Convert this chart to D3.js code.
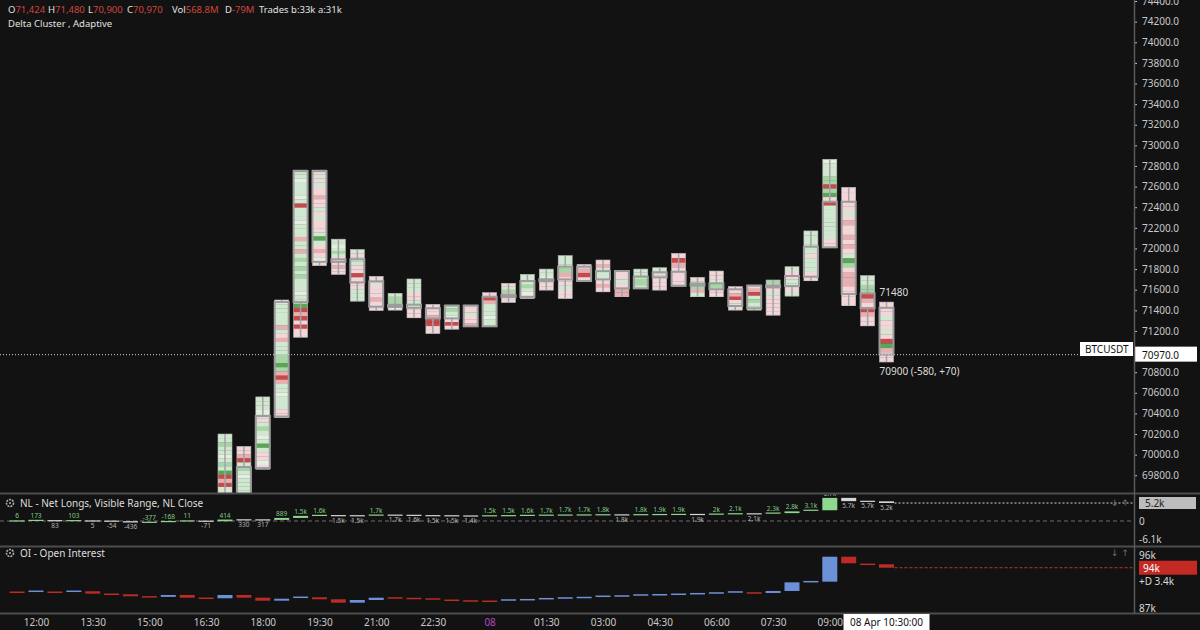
<!DOCTYPE html>
<html>
<head>
    <meta charset="utf-8">
    <title>BTCUSDT Delta Cluster</title>
    <script type="text/javascript" src="https://cdn.jsdelivr.net/npm/d3@7"></script>
    <style type="text/css">
        body { margin: 0; background: #121212; }
        svg { display: block; font-family: "Noto Sans", sans-serif; }
        .axis text { fill: #c8c8c8; font-size: 10px; font-family: "Noto Sans", sans-serif; }
        .axis line { stroke: #c8c8c8; }
        .axis path { display: none; }
    </style>
</head>
<body>
<script type="text/javascript">
    // 30 min candles, 17:00 on 07 Apr to 10:30 on 08 Apr (earlier ones sit below the visible range)
    var candleOpen  = [69550, 69620, 69870, 70370, 71480, 72750, 71870, 71895, 71680, 71435, 71455, 71420,
                       71322, 71445, 71245, 71532, 71530, 71684, 71700, 71823, 71700, 71781, 71613, 71720,
                       71774, 71640, 71662, 71604, 71420, 71639, 71636, 71726, 72011, 72453, 71565, 71424];
    var candleHigh  = [70200, 70080, 70560, 71500, 72760, 72760, 72090, 71990, 71730, 71565, 71704, 71458,
                       71451, 71451, 71571, 71662, 71749, 71800, 71930, 71846, 71888, 71785, 71800, 71813,
                       71953, 71720, 71781, 71630, 71645, 71694, 71823, 72170, 72865, 72593, 71736, 71480];
    var candleLow   = [69450, 69500, 69860, 70360, 71140, 71835, 71750, 71490, 71400, 71403, 71328, 71177,
                       71218, 71241, 71241, 71478, 71516, 71597, 71516, 71680, 71580, 71532, 71613, 71597,
                       71635, 71532, 71532, 71403, 71403, 71354, 71539, 71687, 72010, 71445, 71250, 70900];
    var candleClose = [69620, 69880, 70375, 71480, 72750, 71870, 71895, 71670, 71435, 71450, 71425, 71322,
                       71445, 71245, 71532, 71545, 71684, 71700, 71823, 71684, 71780, 71613, 71726, 71768,
                       71639, 71660, 71604, 71442, 71639, 71625, 71733, 72017, 72453, 71558, 71420, 70970];

    // cluster rows, top to bottom: g light green, w pale, G green, D dark green, p pink, r red, R dark red
    var candleCells = [
        "ggGggwgGgDRrRgpgwgg", "pprRgGgwggggwgg", "gggwgpgGgwgDgppwp",
        "wgggggrgprgggGGDGrRrggwgggpp", "ggwgggwgRgggwgggrggrgGgGgGgggwggDRrRpRpp",
        "pgpgpprppgpgpppgDgprpwp", "ggwgGgppprpp", "gpggppRpppggg", "pgppprpp", "gGGgw",
        "gggppggpp", "ppprRRpp", "gGgwpRp", "ppgppr", "pRrgggwgg", "pgGrgp", "gggGgwp", "ggwgpp",
        "gggGrppgpp", "prRp", "prgggprp", "ppgprr", "gggGGg", "gpgppp", "pRrpppp", "pgGrg",
        "ppgGpp", "pprRpgp", "prRgGgg", "Gppgppppp", "gppggpg", "gggggpgggpp",
        "wgggGGRGDpRggggggggpp", "pppppgprpprprpgDGprrrpppp", "ggGGRrpRrpp", "pppgppgpRDrpp"
    ];

    // indicator series, 11:30 on 07 Apr to 10:30 on 08 Apr
    var netLongs = [6, 173, 83, 103, 5, -54, -436, -377, -168, 11, -71,
                    414, 330, 317, 889, 1480, 1620, 1540, 1510, 1700, 1680, 1630, 1530,
                    1500, 1440, 1500, 1540, 1620, 1680, 1710, 1740, 1790, 1760, 1820, 1860,
                    1900, 1880, 1980, 2080, 2060, 2280, 2780, 3100, 6680, 5730, 5680, 5200];
    var openInterest = [89.67, 89.84, 89.67, 89.84, 89.43, 89.33, 88.99, 88.89, 89.21, 88.75, 88.65,
                        89.21, 88.75, 88.24, 88.58, 88.82, 88.48, 87.90, 88.36, 88.75, 88.70, 88.61, 88.53,
                        88.31, 88.19, 88.14, 88.36, 88.41, 88.58, 88.70, 88.78, 88.99, 89.04, 89.21, 89.25,
                        89.33, 89.43, 89.55, 89.72, 89.55, 89.89, 91.36, 91.47, 95.71, 94.59, 94.42, 93.84];

    var xTickLabels = ["12:00", "13:30", "15:00", "16:30", "18:00", "19:30", "21:00", "22:30",
                       "08", "01:30", "03:00", "04:30", "06:00", "07:30", "09:00"];
    var priceTicks = d3.range(69800, 74401, 200);

    var w = 1200, h = 630, axisX = 1134;
    var cellColor = {g: "#d0e8d0", w: "#e5eee2", G: "#a6d6a6", D: "#5aa55a",
                     p: "#f2d6da", r: "#e6b0b2", R: "#c44a4c"};

    var end = new Date(Date.UTC(2024, 3, 8, 11, 0));
    var candleTimes = d3.utcMinute.range(new Date(Date.UTC(2024, 3, 7, 17, 0)), end, 30);
    var seriesTimes = d3.utcMinute.range(new Date(Date.UTC(2024, 3, 7, 11, 30)), end, 30);
    var tickTimes = d3.utcMinute.range(new Date(Date.UTC(2024, 3, 7, 12, 0)),
                                       new Date(Date.UTC(2024, 3, 8, 9, 1)), 90);

    var x = d3.scaleUtc()
        .domain([new Date(Date.UTC(2024, 3, 7, 11, 0)), new Date(Date.UTC(2024, 3, 8, 12, 0))])
        .range([-1.8, 943.2]);
    var yPrice = d3.scaleLinear().domain([69628, 74410]).range([493, 0]);
    var yNL = d3.scaleLinear().domain([0, 5200]).range([521, 503]);
    var yOI = d3.scaleLinear().domain([87, 96]).range([608, 555]);

    var svg = d3.select("body").append("svg")
        .attr("width", w)
        .attr("height", h);

    svg.append("rect").attr("width", w).attr("height", h).attr("fill", "#121212");

    var defs = svg.append("defs");
    [["clipMain", 0, 493], ["clipNL", 494, 546], ["clipOI", 547, 613]].forEach(function (c) {
        defs.append("clipPath").attr("id", c[0])
            .append("rect").attr("x", 0).attr("y", c[1]).attr("width", axisX).attr("height", c[2] - c[1]);
    });

    // ---- price pane ----
    var main = svg.append("g").attr("clip-path", "url(#clipMain)");

    candleTimes.forEach(function (t, i) {
        var cx = x(t),
            top = yPrice(candleHigh[i]),
            bot = yPrice(candleLow[i]),
            rows = candleCells[i].split(""),
            rh = (bot - top) / rows.length,
            bt = yPrice(Math.max(candleOpen[i], candleClose[i])),
            bb = yPrice(Math.min(candleOpen[i], candleClose[i]));
        if (bb - bt < 2) { var m = (bt + bb) / 2; bt = m - 1; bb = m + 1; }

        var g = main.append("g");
        g.selectAll("rect").data(rows).enter().append("rect")
            .attr("x", cx - 7)
            .attr("width", 14)
            .attr("y", function (c, j) { return top + j * rh; })
            .attr("height", rh + 0.3)
            .attr("fill", function (c) { return cellColor[c]; });
        g.append("rect")
            .attr("x", cx - 7).attr("y", top).attr("width", 14).attr("height", bot - top)
            .attr("fill", "none").attr("stroke", "#b8b8b8").attr("stroke-width", 0.6);
        g.append("line").attr("x1", cx).attr("x2", cx).attr("y1", top).attr("y2", bt)
            .attr("stroke", "#a3a3a3").attr("stroke-width", 1.5);
        g.append("line").attr("x1", cx).attr("x2", cx).attr("y1", bb).attr("y2", bot)
            .attr("stroke", "#a3a3a3").attr("stroke-width", 1.5);
        g.append("rect")
            .attr("x", cx - 7).attr("y", bt).attr("width", 14).attr("height", bb - bt)
            .attr("fill", "none").attr("stroke", "#9c9c9c").attr("stroke-width", 2);
    });

    var last = candleTimes.length - 1,
        lastClose = candleClose[last];

    main.append("line")
        .attr("x1", 0).attr("x2", 1080)
        .attr("y1", yPrice(lastClose)).attr("y2", yPrice(lastClose))
        .attr("stroke", "#d0d0d0").attr("stroke-dasharray", "1,2");

    svg.append("text").attr("x", x(candleTimes[last]) - 7).attr("y", yPrice(candleHigh[last]) - 6)
        .attr("fill", "#dcdcdc").attr("font-size", 10).text("71480");
    svg.append("text").attr("x", x(candleTimes[last]) - 7).attr("y", yPrice(candleLow[last]) + 13)
        .attr("fill", "#dcdcdc").attr("font-size", 10).text("70900 (-580, +70)");

    // header
    var head = svg.append("text").attr("y", 13).attr("font-size", 9.5);
    [["O", "71,424", 8], ["H", "71,480", 48], ["L", "70,900", 88], ["C", "70,970", 127],
     ["Vol", "568.8M", 172], ["D", "-79M", 225], ["Trades b:33k a:31k", "", 259]].forEach(function (p) {
        head.append("tspan").attr("x", p[2]).attr("fill", "#e2e2e2").text(p[0]);
        head.append("tspan").attr("fill", "#d2453f").text(p[1]);
    });
    svg.append("text").attr("x", 8).attr("y", 27).attr("font-size", 9.5).attr("fill", "#e2e2e2")
        .text("Delta Cluster , Adaptive");

    // price axis (ticks hidden behind the last price tag are left out)
    svg.append("g").attr("class", "axis")
        .attr("transform", "translate(" + axisX + ",0)")
        .call(d3.axisRight(yPrice)
            .tickValues(priceTicks.filter(function (p) { return Math.abs(yPrice(p) - yPrice(lastClose)) > 9; }))
            .tickSize(3).tickPadding(5)
            .tickFormat(d3.format(".1f")));

    svg.append("rect").attr("x", 1080).attr("y", 342).attr("width", 53).attr("height", 14).attr("fill", "#fff");
    svg.append("text").attr("x", 1085).attr("y", 353).attr("font-size", 10).attr("fill", "#111").text("BTCUSDT");
    svg.append("rect").attr("x", 1135).attr("y", yPrice(lastClose) - 8).attr("width", 62).attr("height", 15)
        .attr("fill", "#fff");
    svg.append("text").attr("x", 1142).attr("y", yPrice(lastClose) + 4).attr("font-size", 10)
        .attr("fill", "#111").text(d3.format(".1f")(lastClose));

    // ---- NL pane ----
    function fmtK(v) {
        if (Math.abs(v) < 1000) return String(v);
        return (v / 1000).toFixed(1).replace(/\.0$/, "") + "k";
    }

    var nl = svg.append("g").attr("clip-path", "url(#clipNL)");
    nl.append("line").attr("x1", 0).attr("x2", axisX).attr("y1", yNL(0)).attr("y2", yNL(0))
        .attr("stroke", "#6c6c6c").attr("stroke-dasharray", "4,3");

    seriesTimes.forEach(function (t, i) {
        var cx = x(t), prev = i ? netLongs[i - 1] : 0, cur = netLongs[i],
            up = cur >= prev,
            y1 = Math.min(yNL(prev), yNL(cur)), y2 = Math.max(yNL(prev), yNL(cur));
        if (y2 - y1 < 1.2) { y1 = yNL(cur) - 0.6; y2 = yNL(cur) + 0.6; }
        nl.append("rect").attr("x", cx - 7.5).attr("width", 15).attr("y", y1).attr("height", y2 - y1)
            .attr("fill", up ? "#8fd68f" : "#d6d6d6");
        nl.append("text").attr("x", cx).attr("y", up ? y1 - 2 : y2 + 6.5)
            .attr("text-anchor", "middle").attr("font-size", 6.5)
            .attr("fill", up ? "#86c986" : "#b4b4b4").text(fmtK(cur));
    });
    var nlLast = netLongs[netLongs.length - 1];
    nl.append("line").attr("x1", x(seriesTimes[seriesTimes.length - 1]) + 8).attr("x2", axisX)
        .attr("y1", yNL(nlLast)).attr("y2", yNL(nlLast))
        .attr("stroke", "#d8d8d8").attr("stroke-dasharray", "2,2");

    svg.append("rect").attr("x", 1139).attr("y", 497).attr("width", 57).attr("height", 12).attr("fill", "#bdbdbd");
    svg.append("text").attr("x", 1145).attr("y", 507).attr("font-size", 10).attr("fill", "#222").text(fmtK(nlLast));
    svg.append("text").attr("x", 1139).attr("y", 525).attr("font-size", 10).attr("fill", "#d0d0d0").text("0");
    svg.append("text").attr("x", 1139).attr("y", 543).attr("font-size", 10).attr("fill", "#d0d0d0").text("-6.1k");

    // ---- OI pane ----
    var oi = svg.append("g").attr("clip-path", "url(#clipOI)");
    seriesTimes.forEach(function (t, i) {
        var cx = x(t), prev = i ? openInterest[i - 1] : 89.72, cur = openInterest[i],
            y1 = Math.min(yOI(prev), yOI(cur)), y2 = Math.max(yOI(prev), yOI(cur));
        if (y2 - y1 < 1.5) { y1 = yOI(cur) - 0.75; y2 = yOI(cur) + 0.75; }
        oi.append("rect").attr("x", cx - 7.5).attr("width", 15).attr("y", y1).attr("height", y2 - y1)
            .attr("fill", cur >= prev ? "#6d91d9" : "#bd2b26");
    });
    var oiLast = openInterest[openInterest.length - 1];
    oi.append("line").attr("x1", x(seriesTimes[seriesTimes.length - 1]) + 8).attr("x2", axisX)
        .attr("y1", yOI(oiLast)).attr("y2", yOI(oiLast))
        .attr("stroke", "#c0302b").attr("stroke-dasharray", "3,2");

    svg.append("text").attr("x", 1139).attr("y", yOI(96) + 4).attr("font-size", 10).attr("fill", "#d8d8d8").text("96k");
    svg.append("rect").attr("x", 1139).attr("y", yOI(oiLast) - 7).attr("width", 58).attr("height", 14).attr("fill", "#c42a24");
    svg.append("text").attr("x", 1143).attr("y", yOI(oiLast) + 4).attr("font-size", 10).attr("fill", "#fff")
        .text(Math.round(oiLast) + "k");
    svg.append("text").attr("x", 1139).attr("y", 585).attr("font-size", 10).attr("fill", "#d8d8d8").text("+D 3.4k");
    svg.append("text").attr("x", 1139).attr("y", yOI(87) + 4).attr("font-size", 10).attr("fill", "#d8d8d8").text("87k");

    // pane frames and titles
    [493.5, 546.5, 613.5].forEach(function (yy) {
        svg.append("line").attr("x1", 0).attr("x2", w).attr("y1", yy).attr("y2", yy)
            .attr("stroke", "#4d4d4d").attr("stroke-width", 2);
    });
    svg.append("line").attr("x1", axisX + 0.5).attr("x2", axisX + 0.5).attr("y1", 0).attr("y2", 614)
        .attr("stroke", "#5a5a5a").attr("stroke-width", 1.5);

    [[503, "NL - Net Longs, Visible Range, NL Close"], [553, "OI - Open Interest"]].forEach(function (p) {
        svg.append("circle").attr("cx", 10).attr("cy", p[0]).attr("r", 3.5)
            .attr("fill", "none").attr("stroke", "#b0b0b0").attr("stroke-width", 1.6)
            .attr("stroke-dasharray", "2,1");
        svg.append("circle").attr("cx", 10).attr("cy", p[0]).attr("r", 1).attr("fill", "#b0b0b0");
        svg.append("text").attr("x", 20).attr("y", p[0] + 3.5).attr("font-size", 10)
            .attr("fill", "#dedede").text(p[1]);
        svg.append("text").attr("x", 1111).attr("y", p[0] + 3).attr("font-size", 9)
            .attr("font-family", "DejaVu Sans").attr("fill", "#6e6e6e").text("\u2193 \u2191");
    });

    // time axis
    var xAxis = svg.append("g").attr("class", "axis")
        .attr("transform", "translate(0,617)")
        .call(d3.axisBottom(x).tickValues(tickTimes).tickSize(0).tickPadding(2)
            .tickFormat(function (d, i) { return xTickLabels[i]; }));
    xAxis.selectAll("text").filter(function (d, i) { return xTickLabels[i] === "08"; }).style("fill", "#b645c9");

    var tip = x(candleTimes[last]);
    svg.append("rect").attr("x", tip - 43).attr("y", 614).attr("width", 86).attr("height", 16).attr("fill", "#fff");
    svg.append("text").attr("x", tip).attr("y", 626).attr("text-anchor", "middle").attr("font-size", 10)
        .attr("fill", "#111").text("08 Apr 10:30:00");
</script>
</body>
</html>
